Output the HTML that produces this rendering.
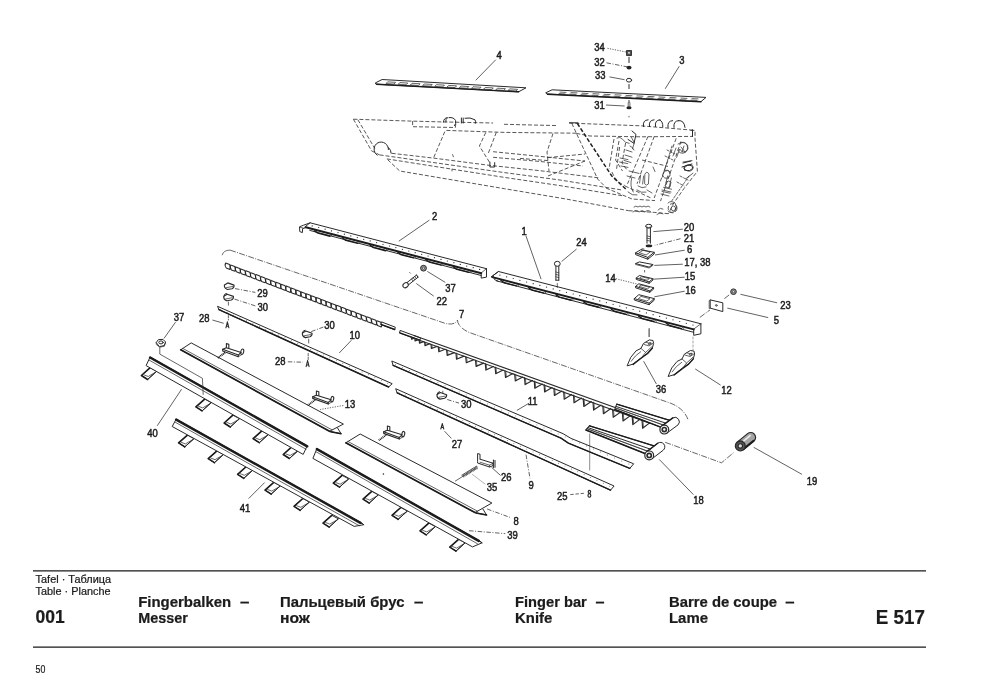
<!DOCTYPE html>
<html><head><meta charset="utf-8"><title>Tafel 001 - Fingerbalken / Messer - E 517</title>
<style>
html,body{margin:0;padding:0;background:#fff;}
body{width:994px;height:700px;overflow:hidden;font-family:"Liberation Sans",sans-serif;}
svg{display:block;position:absolute;left:0;top:0;}
svg text{font-family:"Liberation Sans",sans-serif;fill:#1a1a1a;}
.ft{position:absolute;white-space:nowrap;color:#111;line-height:1;font-family:"Liberation Sans",sans-serif;}
.b{font-weight:bold;}
.l{fill:none;stroke:#2a2a2a;stroke-width:1;stroke-linecap:round;stroke-linejoin:round;}
.t{fill:none;stroke:#333;stroke-width:0.75;stroke-linecap:round;stroke-linejoin:round;}
.h{fill:none;stroke:#1c1c1c;stroke-width:1.4;stroke-linecap:round;stroke-linejoin:round;}
.d{fill:none;stroke:#3a3a3a;stroke-width:0.85;stroke-dasharray:4 2;stroke-linecap:butt;}
.ld{fill:none;stroke:#333;stroke-width:0.7;}
.cd{fill:none;stroke:#333;stroke-width:0.75;stroke-dasharray:6 1.3 1 1.3;}
.f{fill:#222;stroke:none;}
.w{fill:#fff;stroke:#2a2a2a;stroke-width:1;stroke-linejoin:round;}
.n{font-size:9.5px;}
</style></head><body>
<svg width="994" height="700" viewBox="0 0 994 700">
<g id="top-section">
<g id="part-4">
<path class="l" d="M375.6 82.8 L382.1 79.5 L526.0 87.8 L518.6 91.8 L376.5 84.2Z"/>
<path class="h" d="M376.5 84.2 L518.6 91.8"/>
<path class="t" d="M388.0 81.9 l7.6 0.45 l-1.6 1.7 l-7.6 -0.45 z"/>
<path class="t" d="M400.2 82.6 l7.6 0.45 l-1.6 1.7 l-7.6 -0.45 z"/>
<path class="t" d="M412.4 83.3 l7.6 0.45 l-1.6 1.7 l-7.6 -0.45 z"/>
<path class="t" d="M424.6 84.0 l7.6 0.45 l-1.6 1.7 l-7.6 -0.45 z"/>
<path class="t" d="M436.8 84.7 l7.6 0.45 l-1.6 1.7 l-7.6 -0.45 z"/>
<path class="t" d="M449.0 85.4 l7.6 0.45 l-1.6 1.7 l-7.6 -0.45 z"/>
<path class="t" d="M461.2 86.1 l7.6 0.45 l-1.6 1.7 l-7.6 -0.45 z"/>
<path class="t" d="M473.4 86.8 l7.6 0.45 l-1.6 1.7 l-7.6 -0.45 z"/>
<path class="t" d="M485.6 87.5 l7.6 0.45 l-1.6 1.7 l-7.6 -0.45 z"/>
<path class="t" d="M497.8 88.2 l7.6 0.45 l-1.6 1.7 l-7.6 -0.45 z"/>
<path class="t" d="M510.0 88.9 l7.6 0.45 l-1.6 1.7 l-7.6 -0.45 z"/>
</g>
<g id="part-3">
<path class="l" d="M546.1 92.6 L552.1 89.8 L706.0 97.4 L701.0 101.6 L547.5 94.0Z"/>
<path class="h" d="M547.5 94.2 L701.0 101.8"/>
<path class="t" d="M560.0 92.1 l6 0.3"/>
<path class="t" d="M559.0 93.6 l6 0.3"/>
<path class="t" d="M571.0 92.6 l6 0.3"/>
<path class="t" d="M570.0 94.1 l6 0.3"/>
<path class="t" d="M582.0 93.2 l6 0.3"/>
<path class="t" d="M581.0 94.7 l6 0.3"/>
<path class="t" d="M593.0 93.7 l6 0.3"/>
<path class="t" d="M592.0 95.2 l6 0.3"/>
<path class="t" d="M604.0 94.3 l6 0.3"/>
<path class="t" d="M603.0 95.8 l6 0.3"/>
<path class="t" d="M615.0 94.8 l6 0.3"/>
<path class="t" d="M614.0 96.3 l6 0.3"/>
<path class="t" d="M626.0 95.4 l6 0.3"/>
<path class="t" d="M625.0 96.9 l6 0.3"/>
<path class="t" d="M637.0 95.9 l6 0.3"/>
<path class="t" d="M636.0 97.4 l6 0.3"/>
<path class="t" d="M648.0 96.4 l6 0.3"/>
<path class="t" d="M647.0 97.9 l6 0.3"/>
<path class="t" d="M659.0 97.0 l6 0.3"/>
<path class="t" d="M658.0 98.5 l6 0.3"/>
<path class="t" d="M670.0 97.5 l6 0.3"/>
<path class="t" d="M669.0 99.0 l6 0.3"/>
<path class="t" d="M681.0 98.1 l6 0.3"/>
<path class="t" d="M680.0 99.6 l6 0.3"/>
<path class="t" d="M692.0 98.6 l6 0.3"/>
<path class="t" d="M691.0 100.1 l6 0.3"/>
</g>
<g id="fasteners-31-34">
<rect x="626.6" y="50.6" width="4.8" height="4.8" fill="#555" stroke="#222" stroke-width="0.9"/>
<rect x="628" y="52" width="2" height="1.6" fill="#ccc"/>
<line class="l" x1="629.0" y1="57.2" x2="629.0" y2="62.6"/>
<ellipse class="f" cx="629.0" cy="67.6" rx="2.5" ry="1.9"/>
<ellipse class="l" cx="629.0" cy="80.2" rx="2.6" ry="1.9"/>
<line class="l" x1="629.0" y1="84.5" x2="629.0" y2="88.6"/>
<line class="l" x1="629.0" y1="100.5" x2="629.0" y2="102.5"/>
<path class="t" d="M628.2 102.8 L628.2 106.6 M629.9 102.8 L629.9 106.6"/>
<ellipse class="f" cx="629.0" cy="107.8" rx="2.6" ry="1.5"/>
<line class="t" x1="629.0" y1="116.2" x2="629.0" y2="117.0"/>
</g>
<g id="machine-phantom">
<path class="d" d="M353.4 119.2 L411.0 121.1 L441.6 121.9 L493.1 123.0"/>
<path class="d" d="M353.4 119.2 L371.6 150.9 L379.6 154.9"/>
<path class="d" d="M357.9 119.8 L374.8 148.5"/>
<path class="l" d="M377.2 155.2 A7.2 7.2 0 1 1 388.4 149.6 M388.6 147.6 q2.6 2.4 2.6 5.6"/>
<path class="d" d="M391.7 153.3 L433.5 158.1 L489.9 165.4 L539.2 170.6 L600.0 178.0"/>
<path class="d" d="M379.6 154.9 L504.4 172.6 L560.0 180.0 L622.0 190.0"/>
<path class="d" d="M386.9 158.9 L504.4 177.4 L560.0 185.6 L624.0 196.0"/>
<path class="d" d="M387.7 159.7 L399.7 171.0 L504.4 188.7 L566.0 199.0 L628.7 210.7"/>
<path class="d" d="M412.6 121.1 L412.6 126.7 L455.3 127.5 L456.1 121.9"/>
<path class="l" d="M443.4 122.2 q0.4 -4.4 4.2 -4.6 q-2.4 1.6 -1.8 4.4 M449 117.6 q4.8 -0.6 6.6 3 q0.6 3.2 -1 5"/>
<path class="l" d="M461.4 118 l0 5 M463.2 118 l0 5 M465 118.2 q5.2 -1.2 10 1.6 q1.2 2 0.4 3.6"/>
<path class="d" d="M446.4 130.4 L504.4 132.4 L576.3 133.2"/>
<path class="d" d="M444.8 131.6 L433.5 158.1"/>
<path class="d" d="M485.8 132.4 L479.4 146.0 L489.9 162.9"/>
<path class="d" d="M496.3 132.4 L488.3 153.3"/>
<path class="d" d="M493.1 151.7 L539.2 156.3 L585.0 161.0"/>
<path class="d" d="M493.1 157.3 L539.2 161.4 L583.0 166.0"/>
<path class="l" d="M489.9 162.1 L489.9 167.0 L494.7 167.0 L494.7 162.6"/>
<path class="t" d="M452.6 154.6 l0.8 2.2 M452 169.2 l0 1.8"/>
<path class="d" d="M504.0 124.3 L557.2 125.6"/>
<path class="d" d="M569.3 123.1 L640.7 125.8 L693.0 130.2"/>
<path class="d" d="M576.3 133.4 L590.0 136.0 L640.0 136.8 L693.0 136.4"/>
</g>
<g id="machine-phantom-right">
<path class="d" d="M571.8 123.4 L597.7 179.1 L605.5 187.0"/>
<path class="d" d="M577.3 123.4 L611.8 176.0 L626.0 189.3" style="stroke-width:1.5;stroke:#222"/>
<path class="l" d="M569.4 122.8 L578.0 122.8"/>
<path class="d" d="M553.0 133.5 L547.0 152.0 L549.0 171.0"/>
<path class="d" d="M548.0 157.6 L585.1 154.0"/>
<path class="d" d="M548.0 176.0 L586.7 160.3"/>
<path class="d" d="M520.0 158.4 L548.0 160.6"/>
<path class="d" d="M690.4 130.4 L695.0 130.4 L695.0 138.3 L697.4 171.3 L684.0 188.5 L673.0 204.2 L668.4 213.7"/>
<path class="l" d="M692.5 129.8 L692.5 136.4"/>
<path class="d" d="M628.7 210.7 L654.2 212.4 L668.4 213.7"/>
<path class="l" d="M643.5 126.6 q-1.2 -6.6 4.6 -6.8"/>
<path class="l" d="M649.5 126.6 q-1.2 -6.6 4.6 -6.8"/>
<path class="l" d="M655.5 126.6 q-1.2 -6.6 4.6 -6.8"/>
<path class="l" d="M659.6 120 q3.4 1 3.2 6.8"/>
<path class="l" d="M668.0 127.4 q-1 -6.4 4.6 -6.8"/>
<path class="l" d="M674.0 127.4 q-1 -6.4 4.6 -6.8"/>
<path class="l" d="M678.6 120.6 q5.6 -0.6 6.4 6.8"/>
<path class="d" d="M648.0 136.4 L627.5 183.8"/>
<path class="d" d="M654.2 136.4 L637.0 183.8"/>
<path class="d" d="M676.2 138.3 L654.2 198.0"/>
<path class="d" d="M681.0 141.4 L660.5 201.1"/>
<path class="d" d="M642.0 160.0 L668.0 166.4"/>
<path class="d" d="M606.0 188.0 L632.0 199.0 L655.0 200.6"/>
<path class="d" d="M625.0 186.0 L651.0 198.0"/>
<path class="d" d="M619.0 141.0 L615.6 160.0 L622.5 171.0"/>
<path class="d" d="M625.6 143.0 L622.0 163.0 L627.0 170.0"/>
<path class="l" d="M632.0 131.0 L636.0 134.4 L634.0 143.4 L628.0 139.4"/>
<path class="t" d="M617 138 q3 -2 5.6 1.4 q2.4 3.6 6.6 4 M620 158 l8 1.6 M619.6 162 l8 1.6 M621 166 l7 1.4"/>
<path class="t" d="M629 171 l10 2.4 M627 176 l8 2 M631.6 178.4 q-2 8 1.6 13.6 M637 190 q4 3.4 9 2.2 M645 174 q1.6 -3.6 4 0 l-0.6 10 q-2 2.4 -3.6 0 z"/>
<path class="t" d="M653 167 l2 4.6 M664 171 q5 -2.6 5.6 2 M667.6 176 l-2.4 10 M671.4 178 l-2.4 10 M663.6 187.4 l8 1.8 M662 191.4 l8 1.8"/>
<path class="t" d="M680.6 143 q4.6 -1.6 7 2.4 q1.6 4 -1.6 6.4 q-4.4 1 -6 -2.4 M676 148 l-3 8 M679.6 149.4 l-3 8"/>
<path class="t" d="M684 168.4 q3 -4.6 8.4 -3 q2 2 0 4.4 q-4 3.6 -8.4 -1.4 M683 162 l9 -1.4 M686 178.6 l7 -5.4"/>
<path class="d" d="M614 139 l-5 30 M619.6 147 l-3 22 M612 172 q4 10 13 13.6"/>
<path class="t" d="M631.4 137.4 l3 5.4 l-2 6 M626 150 l6 2 M625 155 l7 2.2 M624 160.4 l7 2.2 M630 146 q3 1 4 4"/>
<path class="t" d="M640.6 175 l-1 8 M643.6 176 l-1 8 M638 186 q4 3 8 1 M628 192 q4 4 9 3 M647 190 l5 3"/>
<path class="t" d="M667 150 l8 4 M665 156 l8 4 M672 146 l-10 32" stroke-dasharray="2 1.4"/>
<path class="t" d="M678 144 q6 -4 9 1 q2 5 -3 8 q-5 1 -6 -3 M681 147 l4 5 M684 146 l-2 6"/>
<path class="t" d="M664 172 q4 -3 6 0 q1 4 -2 6 q-4 1 -5 -2 M666 182 q3 -2 5 0 l-1 5 q-3 2 -5 -1 M662 190 l9 2 M661 194 l8 2"/>
<path class="l" d="M683 163 l8 -2 M682 167 l10 -3 M684.6 170 q-2 -4 3 -5 q5 0 5 3 q-2 4 -8 2"/>
<path class="t" d="M680 176 l8 4 M677 182 l7 4 M689 176 l-18 26" stroke-dasharray="2.4 1.6"/>
<path class="t" d="M634 207 q2 -2 4 0 q2 -2 4 0 q2 -2 4 0 q2 -2 4 0 M658 210 q2 -3 5 -1 M668 203 q3 -3 7 0 q3 4 0 8 q-4 3 -7 0"/>
<ellipse class="d" cx="672.6" cy="208.2" rx="4.4" ry="4.6"/>
<ellipse class="t" cx="673.4" cy="208.4" rx="2.2" ry="2.4"/>
<path class="t" d="M633 212 q3 -3 6 0 q3 -3 6 0 q3 -3 6 0 M657 214.4 q3 -3 6 -0.6"/>
</g>
</g>
<g id="finger-bars">
<g id="part-2">
<path class="l" d="M304.8 227.0 L310.1 222.8 L486.5 268.7"/>
<path class="l" d="M486.5 268.7 L486.5 277.1 L481.2 278.1 L481.2 272.9"/>
<path class="t" d="M486.5 268.7 L481.2 272.9"/>
<path class="h" d="M305.8 227.3 L481.2 273.2" style="stroke-width:2"/>
<path class="l" d="M309.8 230.4 L481.2 275.5"/>
<circle cx="312.2" cy="225.9" r="0.62" class="f"/>
<circle cx="318.7" cy="227.5" r="0.62" class="f"/>
<circle cx="325.1" cy="229.2" r="0.62" class="f"/>
<circle cx="331.5" cy="230.9" r="0.62" class="f"/>
<circle cx="338.0" cy="232.6" r="0.62" class="f"/>
<circle cx="344.4" cy="234.2" r="0.62" class="f"/>
<circle cx="350.8" cy="235.9" r="0.62" class="f"/>
<circle cx="357.3" cy="237.6" r="0.62" class="f"/>
<circle cx="363.7" cy="239.3" r="0.62" class="f"/>
<circle cx="370.2" cy="240.9" r="0.62" class="f"/>
<circle cx="376.6" cy="242.6" r="0.62" class="f"/>
<circle cx="383.0" cy="244.3" r="0.62" class="f"/>
<circle cx="389.5" cy="246.0" r="0.62" class="f"/>
<circle cx="395.9" cy="247.6" r="0.62" class="f"/>
<circle cx="402.4" cy="249.3" r="0.62" class="f"/>
<circle cx="408.8" cy="251.0" r="0.62" class="f"/>
<circle cx="415.2" cy="252.7" r="0.62" class="f"/>
<circle cx="421.7" cy="254.3" r="0.62" class="f"/>
<circle cx="428.1" cy="256.0" r="0.62" class="f"/>
<circle cx="434.5" cy="257.7" r="0.62" class="f"/>
<circle cx="441.0" cy="259.4" r="0.62" class="f"/>
<circle cx="447.4" cy="261.0" r="0.62" class="f"/>
<circle cx="453.9" cy="262.7" r="0.62" class="f"/>
<circle cx="460.3" cy="264.4" r="0.62" class="f"/>
<circle cx="466.7" cy="266.1" r="0.62" class="f"/>
<circle cx="473.2" cy="267.7" r="0.62" class="f"/>
<circle cx="479.6" cy="269.4" r="0.62" class="f"/>
<path class="h" d="M314.6 230.8 l3.4 2.3 l12 3.1"/>
<path class="t" d="M330.6 234.6 l1.6 1.6"/>
<path class="h" d="M342.4 238.0 l3.4 2.3 l12 3.1"/>
<path class="t" d="M358.4 241.8 l1.6 1.6"/>
<path class="h" d="M370.2 245.3 l3.4 2.3 l12 3.1"/>
<path class="t" d="M386.2 249.1 l1.6 1.6"/>
<path class="h" d="M398.0 252.5 l3.4 2.3 l12 3.1"/>
<path class="t" d="M414.0 256.3 l1.6 1.6"/>
<path class="h" d="M425.8 259.7 l3.4 2.3 l12 3.1"/>
<path class="t" d="M441.8 263.5 l1.6 1.6"/>
<path class="h" d="M453.5 267.0 l3.4 2.3 l12 3.1"/>
<path class="t" d="M469.5 270.8 l1.6 1.6"/>
<path class="l" d="M310.1 222.8 L303.6 225.2 L299.5 226.8 L299.8 231.6 L302.4 232.6 L302.6 228.6 L305 227.9"/>
<path class="t" d="M300.4 227.4 l2.6 0.6"/>
</g>
<g id="bolt-22-nut-37">
<ellipse class="w" cx="405.6" cy="285.2" rx="2.9" ry="2.3" transform="rotate(-38 405.6 285.2)"/>
<path class="l" d="M407.2 282.4 L416.6 275 M408.8 284.6 L418 277.2 M416.6 275 L418 277.2"/>
<path class="t" d="M411.6 279 l1.4 2 M413.2 277.7 l1.4 2 M414.8 276.4 l1.4 2"/>
<circle cx="423.5" cy="268.2" r="2.9" class="w" style="fill:#999"/>
<circle cx="423.5" cy="268.2" r="1.1" fill="#eee" stroke="#222" stroke-width="0.6"/>
<path class="t" d="M409.6 272.4 l0.8 0.8"/>
</g>
<g id="part-1">
<path class="l" d="M491.3 276.8 L498.5 271.5 L700.9 323.8"/>
<path class="l" d="M700.9 323.8 L700.9 333.8 L693.7 335.3 L693.7 329.1"/>
<path class="t" d="M700.9 323.8 L693.7 329.1"/>
<path class="h" d="M492.3 277.1 L693.7 329.4" style="stroke-width:2"/>
<path class="l" d="M496.3 280.8 L693.7 332.3"/>
<circle cx="499.9" cy="275.1" r="0.62" class="f"/>
<circle cx="506.6" cy="276.8" r="0.62" class="f"/>
<circle cx="513.2" cy="278.5" r="0.62" class="f"/>
<circle cx="519.9" cy="280.3" r="0.62" class="f"/>
<circle cx="526.6" cy="282.0" r="0.62" class="f"/>
<circle cx="533.2" cy="283.7" r="0.62" class="f"/>
<circle cx="539.9" cy="285.4" r="0.62" class="f"/>
<circle cx="546.5" cy="287.1" r="0.62" class="f"/>
<circle cx="553.2" cy="288.9" r="0.62" class="f"/>
<circle cx="559.8" cy="290.6" r="0.62" class="f"/>
<circle cx="566.5" cy="292.3" r="0.62" class="f"/>
<circle cx="573.2" cy="294.0" r="0.62" class="f"/>
<circle cx="579.8" cy="295.7" r="0.62" class="f"/>
<circle cx="586.5" cy="297.5" r="0.62" class="f"/>
<circle cx="593.1" cy="299.2" r="0.62" class="f"/>
<circle cx="599.8" cy="300.9" r="0.62" class="f"/>
<circle cx="606.4" cy="302.6" r="0.62" class="f"/>
<circle cx="613.1" cy="304.3" r="0.62" class="f"/>
<circle cx="619.8" cy="306.1" r="0.62" class="f"/>
<circle cx="626.4" cy="307.8" r="0.62" class="f"/>
<circle cx="633.1" cy="309.5" r="0.62" class="f"/>
<circle cx="639.7" cy="311.2" r="0.62" class="f"/>
<circle cx="646.4" cy="312.9" r="0.62" class="f"/>
<circle cx="653.1" cy="314.7" r="0.62" class="f"/>
<circle cx="659.7" cy="316.4" r="0.62" class="f"/>
<circle cx="666.4" cy="318.1" r="0.62" class="f"/>
<circle cx="673.0" cy="319.8" r="0.62" class="f"/>
<circle cx="679.7" cy="321.5" r="0.62" class="f"/>
<circle cx="686.3" cy="323.3" r="0.62" class="f"/>
<circle cx="693.0" cy="325.0" r="0.62" class="f"/>
<path class="h" d="M501.0 280.5 l3.4 2.3 l12 3.1"/>
<path class="t" d="M517.0 284.3 l1.6 1.6"/>
<path class="h" d="M528.5 287.7 l3.4 2.3 l12 3.1"/>
<path class="t" d="M544.5 291.5 l1.6 1.6"/>
<path class="h" d="M556.0 294.8 l3.4 2.3 l12 3.1"/>
<path class="t" d="M572.0 298.6 l1.6 1.6"/>
<path class="h" d="M583.6 301.9 l3.4 2.3 l12 3.1"/>
<path class="t" d="M599.6 305.7 l1.6 1.6"/>
<path class="h" d="M611.1 309.0 l3.4 2.3 l12 3.1"/>
<path class="t" d="M627.1 312.8 l1.6 1.6"/>
<path class="h" d="M638.6 316.1 l3.4 2.3 l12 3.1"/>
<path class="t" d="M654.6 319.9 l1.6 1.6"/>
<path class="h" d="M666.2 323.2 l3.4 2.3 l12 3.1"/>
<path class="t" d="M682.2 327.0 l1.6 1.6"/>
<path class="l" d="M498.5 271.5 L493 275.6 L494.6 279.6 L498.4 281.4"/>
</g>
<g id="bolt-24">
<ellipse class="w" cx="557.3" cy="263.8" rx="2.9" ry="2.5"/>
<path class="l" d="M555.9 266.2 L555.9 280.2 M558.8 266.2 L558.8 280.2 M555.9 280.2 L558.8 280.2"/>
<path class="t" d="M555.9 272 l2.9 0.8 M555.9 274.4 l2.9 0.8 M555.9 276.8 l2.9 0.8"/>
<line class="t" x1="557.3" y1="283.5" x2="557.3" y2="287.5"/>
</g>
<g id="clamp-stack">
<ellipse class="w" cx="648.7" cy="226.2" rx="3.1" ry="1.9"/>
<path class="t" d="M646 226.8 q2.7 2 5.4 0"/>
<path class="l" d="M647 228.2 L647 243.2 M650.4 228.2 L650.4 243.2"/>
<path class="t" d="M647 236 l3.4 0.7 M647 238.2 l3.4 0.7 M647 240.4 l3.4 0.7"/>
<ellipse class="f" cx="649.0" cy="245.9" rx="3.3" ry="1.4"/>
<path class="w" d="M635.6 252.9 L640.7 249.7 L654.2 252.3 L647.8 257.4 Z"/>
<path class="l" d="M635.6 252.9 L635.6 254.6 L647.8 259.2 L654.2 254 L654.2 252.3 M647.8 257.4 L647.8 259.2"/>
<path class="t" d="M639.6 252.4 L643 250.4 L650.4 251.9 L646.4 254.8 Z"/>
<path class="t" d="M641.5 250 l0.4 -1.3 l2.2 0.4 M637.6 254 l1.6 -1"/>
<path class="w" d="M635.6 263.6 L639.4 261.9 L652.9 264.5 L649.1 267.1 Z"/>
<path class="t" d="M635.6 263.6 L635.6 264.5 L649.1 268 L652.9 265.4 L652.9 264.5"/>
<line class="t" x1="644.6" y1="270.4" x2="644.6" y2="272.0"/>
<path class="w" d="M636.2 278 L639.4 275.5 L652.9 278.7 L649.1 281.9 Z"/>
<path class="l" d="M636.2 278 L636.2 279.4 L649.1 283.3 L652.9 280.1 L652.9 278.7 M649.1 281.9 L649.1 283.3"/>
<path class="t" d="M639.8 277.9 L641.6 276.7 L649.4 278.6 L647.4 280 Z"/>
<path class="w" d="M635.6 286.4 L638.8 283.8 L653.6 287.7 L649.7 290.9 Z"/>
<path class="l" d="M635.6 286.4 L635.6 287.8 L649.7 292.3 L653.6 289.1 L653.6 287.7 M649.7 290.9 L649.7 292.3"/>
<path class="t" d="M639.4 286.2 L641 285 L649.6 287.3 L647.8 288.6 Z"/>
<path class="w" d="M634.3 298.6 L638.8 294.7 L654.2 298.6 L649.1 303.1 Z"/>
<path class="l" d="M634.3 298.6 L634.3 300 L649.1 304.7 L654.2 300.2 L654.2 298.6 M649.1 303.1 L649.1 304.7"/>
<path class="t" d="M638.6 298.4 L641 296.4 L650 298.7 L647.2 300.8 Z"/>
</g>
<g id="plate-5-nut-23">
<path class="w" d="M710.2 299.9 L722.8 302.8 L722.8 311.6 L710.2 308.1 Z"/>
<path class="t" d="M710.2 299.9 L709.2 300.6 L709.2 308.6 L710.2 308.1"/>
<circle cx="716.3" cy="305.4" r="0.9" class="t"/>
<circle cx="733.5" cy="291.7" r="2.8" class="w" style="fill:#999"/>
<circle cx="733.5" cy="291.7" r="1.1" fill="#eee" stroke="#222" stroke-width="0.6"/>
<line class="cd" x1="724.4" y1="298.6" x2="730.4" y2="294.0"/>
<line class="cd" x1="699.8" y1="317.4" x2="710.0" y2="309.9"/>
</g>
<g id="guards-36-12">
<line class="l" x1="649.1" y1="328.7" x2="649.1" y2="336.6"/>
<line class="t" x1="693.0" y1="337.0" x2="693.0" y2="350.0" stroke-dasharray="2 2" opacity="0.6"/>
<path class="w" d="M627.1 365.9 L630.7 357.4 L636.1 350.8 L641.0 348.4 L643.4 343.5 L649.4 339.9 L653.0 340.5 L653.6 343.5 L653.6 343.5 L652.4 347.8 L647.6 353.2 L641.0 358.0 L633.1 364.1Z"/>
<path class="h" d="M633.1 364.4 L641.0 358.3 L647.6 353.5 L652.4 348.1"/>
<path class="t" d="M631.1 361.3 q4 -6 9.6 -9.6 M641.0 348.4 l4.6 4 l-4.4 5.6 M645.6 352.4 l6.2 -5.6"/>
<path class="t" d="M644.1 344.5 l5 1.4 l3.6 -2.4 M646.1 342.3 l4.2 1.2"/>
<ellipse class="t" cx="649.7" cy="343.7" rx="1.5" ry="0.9" transform="rotate(-25 649.7 343.7)"/>
<path class="w" d="M668.1 376.5 L671.7 368.0 L677.1 361.4 L682.0 359.0 L684.4 354.1 L690.4 350.5 L694.0 351.1 L694.6 354.1 L694.6 354.1 L693.4 358.4 L688.6 363.8 L682.0 368.6 L674.1 374.7Z"/>
<path class="h" d="M674.1 375.0 L682.0 368.9 L688.6 364.1 L693.4 358.7"/>
<path class="t" d="M672.1 371.9 q4 -6 9.6 -9.6 M682.0 359.0 l4.6 4 l-4.4 5.6 M686.6 363.0 l6.2 -5.6"/>
<path class="t" d="M685.1 355.1 l5 1.4 l3.6 -2.4 M687.1 352.9 l4.2 1.2"/>
<ellipse class="t" cx="690.7" cy="354.3" rx="1.5" ry="0.9" transform="rotate(-25 690.7 354.3)"/>
</g>
</g>
<g id="lower-section">
<g id="brace-7">
<path class="ld" d="M222.1 255.2 Q223.4 250.2 230.1 250.1"/>
<path class="cd" d="M230.1 250.1 L444.4 323.1 Q454.5 326 457.5 320.1"/>
<path class="cd" d="M457.5 320.1 Q457.5 326.6 468.5 332.2 L670.8 403.3 Q684 408.4 688.2 420"/>
</g>
<g id="knife-7-left">
<path class="l" d="M225.7 263.1 L229.6 264.6 Q231.1 267.8 229.9 269.4 L226.3 268.0 Q224.3 265.3 225.7 263.1" style="stroke-width:1.05"/>
<path class="l" d="M230.7 265.0 L234.7 266.5 Q236.2 269.7 235.0 271.3 L231.4 269.9 Q229.3 267.2 230.7 265.0" style="stroke-width:1.05"/>
<path class="l" d="M235.8 266.9 L239.7 268.4 Q241.2 271.6 240.0 273.2 L236.4 271.8 Q234.4 269.1 235.8 266.9" style="stroke-width:1.05"/>
<path class="l" d="M240.8 268.9 L244.8 270.4 Q246.3 273.5 245.1 275.1 L241.4 273.7 Q239.4 271.1 240.8 268.9" style="stroke-width:1.05"/>
<path class="l" d="M245.9 270.8 L249.8 272.3 Q251.3 275.4 250.1 277.0 L246.5 275.7 Q244.5 273.0 245.9 270.8" style="stroke-width:1.05"/>
<path class="l" d="M250.9 272.7 L254.8 274.2 Q256.4 277.4 255.2 279.0 L251.5 277.6 Q249.5 274.9 250.9 272.7" style="stroke-width:1.05"/>
<path class="l" d="M256.0 274.6 L259.9 276.1 Q261.4 279.3 260.2 280.9 L256.6 279.5 Q254.6 276.8 256.0 274.6" style="stroke-width:1.05"/>
<path class="l" d="M261.0 276.5 L264.9 278.0 Q266.4 281.2 265.2 282.8 L261.6 281.4 Q259.6 278.7 261.0 276.5" style="stroke-width:1.05"/>
<path class="l" d="M266.0 278.5 L270.0 280.0 Q271.5 283.1 270.3 284.7 L266.6 283.3 Q264.6 280.7 266.0 278.5" style="stroke-width:1.05"/>
<path class="l" d="M271.1 280.4 L275.0 281.9 Q276.5 285.0 275.3 286.6 L271.7 285.2 Q269.7 282.6 271.1 280.4" style="stroke-width:1.05"/>
<path class="l" d="M276.1 282.3 L280.1 283.8 Q281.6 287.0 280.4 288.6 L276.7 287.2 Q274.7 284.5 276.1 282.3" style="stroke-width:1.05"/>
<path class="l" d="M281.2 284.2 L285.1 285.7 Q286.6 288.9 285.4 290.5 L281.8 289.1 Q279.8 286.4 281.2 284.2" style="stroke-width:1.05"/>
<path class="l" d="M286.2 286.1 L290.1 287.6 Q291.6 290.8 290.4 292.4 L286.8 291.0 Q284.8 288.3 286.2 286.1" style="stroke-width:1.05"/>
<path class="l" d="M291.2 288.1 L295.2 289.5 Q296.7 292.7 295.5 294.3 L291.9 292.9 Q289.8 290.3 291.2 288.1" style="stroke-width:1.05"/>
<path class="l" d="M296.3 290.0 L300.2 291.5 Q301.7 294.6 300.5 296.2 L296.9 294.8 Q294.9 292.2 296.3 290.0" style="stroke-width:1.05"/>
<path class="l" d="M301.3 291.9 L305.3 293.4 Q306.8 296.5 305.6 298.1 L301.9 296.8 Q299.9 294.1 301.3 291.9" style="stroke-width:1.05"/>
<path class="l" d="M306.4 293.8 L310.3 295.3 Q311.8 298.5 310.6 300.1 L307.0 298.7 Q305.0 296.0 306.4 293.8" style="stroke-width:1.05"/>
<path class="l" d="M311.4 295.7 L315.3 297.2 Q316.9 300.4 315.7 302.0 L312.0 300.6 Q310.0 297.9 311.4 295.7" style="stroke-width:1.05"/>
<path class="l" d="M316.5 297.6 L320.4 299.1 Q321.9 302.3 320.7 303.9 L317.1 302.5 Q315.1 299.8 316.5 297.6" style="stroke-width:1.05"/>
<path class="l" d="M321.5 299.6 L325.4 301.1 Q326.9 304.2 325.7 305.8 L322.1 304.4 Q320.1 301.8 321.5 299.6" style="stroke-width:1.05"/>
<path class="l" d="M326.5 301.5 L330.5 303.0 Q332.0 306.1 330.8 307.7 L327.2 306.4 Q325.1 303.7 326.5 301.5" style="stroke-width:1.05"/>
<path class="l" d="M331.6 303.4 L335.5 304.9 Q337.0 308.1 335.8 309.7 L332.2 308.3 Q330.2 305.6 331.6 303.4" style="stroke-width:1.05"/>
<path class="l" d="M336.6 305.3 L340.6 306.8 Q342.1 310.0 340.9 311.6 L337.2 310.2 Q335.2 307.5 336.6 305.3" style="stroke-width:1.05"/>
<path class="l" d="M341.7 307.2 L345.6 308.7 Q347.1 311.9 345.9 313.5 L342.3 312.1 Q340.3 309.4 341.7 307.2" style="stroke-width:1.05"/>
<path class="l" d="M346.7 309.2 L350.6 310.7 Q352.1 313.8 350.9 315.4 L347.3 314.0 Q345.3 311.4 346.7 309.2" style="stroke-width:1.05"/>
<path class="l" d="M351.7 311.1 L355.7 312.6 Q357.2 315.7 356.0 317.3 L352.4 316.0 Q350.3 313.3 351.7 311.1" style="stroke-width:1.05"/>
<path class="l" d="M356.8 313.0 L360.7 314.5 Q362.2 317.7 361.0 319.3 L357.4 317.9 Q355.4 315.2 356.8 313.0" style="stroke-width:1.05"/>
<path class="l" d="M361.8 314.9 L365.8 316.4 Q367.3 319.6 366.1 321.2 L362.4 319.8 Q360.4 317.1 361.8 314.9" style="stroke-width:1.05"/>
<path class="l" d="M366.9 316.8 L370.8 318.3 Q372.3 321.5 371.1 323.1 L367.5 321.7 Q365.5 319.0 366.9 316.8" style="stroke-width:1.05"/>
<path class="l" d="M371.9 318.8 L375.8 320.3 Q377.4 323.4 376.2 325.0 L372.5 323.6 Q370.5 321.0 371.9 318.8" style="stroke-width:1.05"/>
<path class="l" d="M377.0 320.7 L380.9 322.2 Q382.4 325.3 381.2 326.9 L377.6 325.6 Q375.6 322.9 377.0 320.7" style="stroke-width:1.05"/>
<path class="w" d="M381.5 321.9 L395.3 327.2 L394.7 329.7 L380.9 324.6 Z"/>
<path class="h" d="M381.0 324.3 L394.7 329.5"/>
</g>
<g id="knife-7-right">
<path class="w" d="M400.1 330.4 L420.5 337.9 L419.8 340.3 L399.6 333 Z"/>
<path class="h" d="M399.8 332.8 L419.8 340.1"/>
<path class="l" d="M414.0 335.4 L652.7 421.0" style="stroke-width:1.1"/>
<path class="l" d="M416.0 338.9 L650.5 423.4" style="stroke-width:1.1"/>
<path class="l" d="M411.4 337.2 L411.6 339.1 L414.2 338.2" style="stroke-width:1.15"/>
<path class="t" d="M412.3 337.8 L412.5 338.5"/>
<path class="l" d="M414.8 338.5 L415.1 340.9 L418.4 339.8" style="stroke-width:1.15"/>
<path class="t" d="M415.7 339.1 L416.0 340.3"/>
<path class="l" d="M419.2 340.0 L419.5 343.1 L423.6 341.6" style="stroke-width:1.15"/>
<path class="t" d="M420.1 340.6 L420.4 342.5"/>
<path class="l" d="M424.6 342.0 L425.0 345.6 L429.8 343.8" style="stroke-width:1.15"/>
<path class="t" d="M425.5 342.6 L425.9 345.0"/>
<path class="l" d="M431.0 344.3 L431.4 348.5 L437.0 346.4" style="stroke-width:1.15"/>
<path class="t" d="M431.9 344.9 L432.3 347.9"/>
<path class="l" d="M438.3 346.9 L438.8 351.8 L445.2 349.3" style="stroke-width:1.15"/>
<path class="t" d="M439.2 347.5 L439.7 351.2"/>
<path class="l" d="M446.6 349.9 L447.2 355.4 L454.3 352.6" style="stroke-width:1.15"/>
<path class="t" d="M447.5 350.5 L448.1 354.8"/>
<path class="l" d="M456.0 353.2 L456.5 359.2 L464.0 356.1" style="stroke-width:1.15"/>
<path class="t" d="M456.9 353.8 L457.4 358.6"/>
<path class="l" d="M465.7 356.7 L466.3 362.8 L473.8 359.6" style="stroke-width:1.15"/>
<path class="t" d="M466.6 357.3 L467.2 362.2"/>
<path class="l" d="M475.5 360.2 L476.1 366.4 L483.6 363.1" style="stroke-width:1.15"/>
<path class="t" d="M476.4 360.8 L477.0 365.8"/>
<path class="l" d="M485.3 363.7 L485.9 370.1 L493.4 366.6" style="stroke-width:1.15"/>
<path class="t" d="M486.2 364.3 L486.8 369.5"/>
<path class="l" d="M495.1 367.2 L495.7 373.7 L503.1 370.1" style="stroke-width:1.15"/>
<path class="t" d="M496.0 367.8 L496.6 373.1"/>
<path class="l" d="M504.9 370.7 L505.5 377.4 L512.9 373.6" style="stroke-width:1.15"/>
<path class="t" d="M505.8 371.3 L506.4 376.8"/>
<path class="l" d="M514.7 374.2 L515.3 381.0 L522.7 377.1" style="stroke-width:1.15"/>
<path class="t" d="M515.6 374.8 L516.2 380.4"/>
<path class="l" d="M524.5 377.7 L525.1 384.6 L532.5 380.6" style="stroke-width:1.15"/>
<path class="t" d="M525.4 378.3 L526.0 384.0"/>
<path class="l" d="M534.3 381.2 L534.8 388.3 L542.3 384.1" style="stroke-width:1.15"/>
<path class="t" d="M535.2 381.8 L535.7 387.7"/>
<path class="l" d="M544.1 384.7 L544.6 391.9 L552.1 387.6" style="stroke-width:1.15"/>
<path class="t" d="M545.0 385.3 L545.5 391.3"/>
<path class="l" d="M553.9 388.2 L554.4 395.5 L561.9 391.1" style="stroke-width:1.15"/>
<path class="t" d="M554.8 388.8 L555.3 394.9"/>
<path class="l" d="M563.7 391.7 L564.2 399.2 L571.7 394.6" style="stroke-width:1.15"/>
<path class="t" d="M564.6 392.3 L565.1 398.6"/>
<path class="l" d="M573.5 395.2 L574.0 402.8 L581.5 398.1" style="stroke-width:1.15"/>
<path class="t" d="M574.4 395.8 L574.9 402.2"/>
<path class="l" d="M583.2 398.7 L583.8 406.4 L591.3 401.6" style="stroke-width:1.15"/>
<path class="t" d="M584.1 399.3 L584.7 405.8"/>
<path class="l" d="M593.0 402.2 L593.6 410.1 L601.1 405.1" style="stroke-width:1.15"/>
<path class="t" d="M593.9 402.8 L594.5 409.5"/>
<path class="l" d="M602.8 405.8 L603.4 413.7 L610.9 408.6" style="stroke-width:1.15"/>
<path class="t" d="M603.7 406.4 L604.3 413.1"/>
<path class="l" d="M612.6 409.3 L613.2 417.3 L620.6 412.1" style="stroke-width:1.15"/>
<path class="t" d="M613.5 409.9 L614.1 416.7"/>
<path class="l" d="M622.4 412.8 L623.0 421.0 L630.4 415.6" style="stroke-width:1.15"/>
<path class="t" d="M623.3 413.4 L623.9 420.4"/>
<path class="l" d="M632.2 416.3 L632.8 424.6 L640.2 419.1" style="stroke-width:1.15"/>
<path class="t" d="M633.1 416.9 L633.7 424.0"/>
<path class="l" d="M642.0 419.8 L642.6 428.3 L650.0 422.6" style="stroke-width:1.15"/>
<path class="t" d="M642.9 420.4 L643.5 427.7"/>
<g id="knife-head-7">
<path class="w" d="M616.7 404.1 L673.0 421.4 L661.9 427.6 L614.8 409.5Z"/>
<path class="l" d="M615.9 406.4 L668.3 424.0"/>
<path class="t" d="M615.4 407.9 L665.2 425.7Z"/>
<path class="h" d="M614.8 409.5 L661.9 427.6Z"/>
<path class="h" d="M616.7 404.1 L673.0 421.4Z"/>
<path class="w" d="M666.9 433.1 L678.0 424.9 A4.4 4.4 0 0 0 672.8 417.9 L661.7 426.1"/>
<path class="h" d="M672.8 417.9 L661.7 426.1"/>
<circle cx="664.3" cy="429.6" r="4.4" class="w" style="stroke-width:1.2"/>
<circle cx="664.3" cy="429.6" r="2.1" class="l" style="stroke-width:1.7"/>
</g>
</g>
<g id="strips-10-11-9">
<g id="part-10">
<path class="w" d="M217.5 306.3 L392.2 383.7 L388.6 387.0 L218.9 309.6Z"/>
<path class="h" d="M218.9 309.6 L388.6 387.0"/>
<circle cx="220.8" cy="309.4" r="0.45" class="f"/>
<circle cx="227.2" cy="312.2" r="0.45" class="f"/>
<circle cx="233.6" cy="315.1" r="0.45" class="f"/>
<circle cx="240.0" cy="317.9" r="0.45" class="f"/>
<circle cx="246.4" cy="320.8" r="0.45" class="f"/>
<circle cx="252.9" cy="323.6" r="0.45" class="f"/>
<circle cx="259.3" cy="326.5" r="0.45" class="f"/>
<circle cx="265.7" cy="329.3" r="0.45" class="f"/>
<circle cx="272.1" cy="332.2" r="0.45" class="f"/>
<circle cx="278.6" cy="335.0" r="0.45" class="f"/>
<circle cx="285.0" cy="337.8" r="0.45" class="f"/>
<circle cx="291.4" cy="340.7" r="0.45" class="f"/>
<circle cx="297.8" cy="343.5" r="0.45" class="f"/>
<circle cx="304.2" cy="346.4" r="0.45" class="f"/>
<circle cx="310.7" cy="349.2" r="0.45" class="f"/>
<circle cx="317.1" cy="352.1" r="0.45" class="f"/>
<circle cx="323.5" cy="354.9" r="0.45" class="f"/>
<circle cx="329.9" cy="357.8" r="0.45" class="f"/>
<circle cx="336.4" cy="360.6" r="0.45" class="f"/>
<circle cx="342.8" cy="363.5" r="0.45" class="f"/>
<circle cx="349.2" cy="366.3" r="0.45" class="f"/>
<circle cx="355.6" cy="369.2" r="0.45" class="f"/>
<circle cx="362.1" cy="372.0" r="0.45" class="f"/>
<circle cx="368.5" cy="374.8" r="0.45" class="f"/>
<circle cx="374.9" cy="377.7" r="0.45" class="f"/>
<circle cx="381.3" cy="380.5" r="0.45" class="f"/>
<circle cx="387.7" cy="383.4" r="0.45" class="f"/>
</g>
<g id="part-11">
<path class="w" d="M391.8 361 L563.1 433.7 L571 438.4 L633.7 463.8 L629.8 468.4 L568.4 443.2 L561 438.2 L393.1 365.4 Z"/>
<path class="h" d="M393.1 365.4 L561.0 438.2 L568.4 443.2 L629.8 468.4"/>
<circle cx="395.4" cy="364.8" r="0.45" class="f"/>
<circle cx="402.5" cy="367.8" r="0.45" class="f"/>
<circle cx="409.6" cy="370.8" r="0.45" class="f"/>
<circle cx="416.7" cy="373.8" r="0.45" class="f"/>
<circle cx="423.7" cy="376.8" r="0.45" class="f"/>
<circle cx="430.8" cy="379.8" r="0.45" class="f"/>
<circle cx="437.9" cy="382.8" r="0.45" class="f"/>
<circle cx="445.0" cy="385.8" r="0.45" class="f"/>
<circle cx="452.0" cy="388.9" r="0.45" class="f"/>
<circle cx="459.1" cy="391.9" r="0.45" class="f"/>
<circle cx="466.2" cy="394.9" r="0.45" class="f"/>
<circle cx="473.2" cy="397.9" r="0.45" class="f"/>
<circle cx="480.3" cy="400.9" r="0.45" class="f"/>
<circle cx="487.4" cy="403.9" r="0.45" class="f"/>
<circle cx="494.5" cy="406.9" r="0.45" class="f"/>
<circle cx="501.5" cy="409.9" r="0.45" class="f"/>
<circle cx="508.6" cy="412.9" r="0.45" class="f"/>
<circle cx="515.7" cy="415.9" r="0.45" class="f"/>
<circle cx="522.8" cy="418.9" r="0.45" class="f"/>
<circle cx="529.8" cy="421.9" r="0.45" class="f"/>
<circle cx="536.9" cy="424.9" r="0.45" class="f"/>
<circle cx="544.0" cy="427.9" r="0.45" class="f"/>
<circle cx="551.1" cy="430.9" r="0.45" class="f"/>
<circle cx="558.1" cy="433.9" r="0.45" class="f"/>
<circle cx="565.2" cy="436.9" r="0.45" class="f"/>
<circle cx="572.3" cy="439.9" r="0.45" class="f"/>
<circle cx="579.3" cy="443.0" r="0.45" class="f"/>
<circle cx="586.4" cy="446.0" r="0.45" class="f"/>
<circle cx="593.5" cy="449.0" r="0.45" class="f"/>
<circle cx="600.6" cy="452.0" r="0.45" class="f"/>
<circle cx="607.6" cy="455.0" r="0.45" class="f"/>
<circle cx="614.7" cy="458.0" r="0.45" class="f"/>
<circle cx="621.8" cy="461.0" r="0.45" class="f"/>
<circle cx="628.9" cy="464.0" r="0.45" class="f"/>
</g>
<g id="part-9">
<path class="w" d="M395.7 388.7 L614.1 486.0 L610.5 490.2 L397.1 392.9Z"/>
<path class="h" d="M397.1 392.9 L610.5 490.2"/>
<circle cx="398.9" cy="392.2" r="0.45" class="f"/>
<circle cx="405.3" cy="395.0" r="0.45" class="f"/>
<circle cx="411.7" cy="397.9" r="0.45" class="f"/>
<circle cx="418.1" cy="400.7" r="0.45" class="f"/>
<circle cx="424.5" cy="403.6" r="0.45" class="f"/>
<circle cx="430.9" cy="406.4" r="0.45" class="f"/>
<circle cx="437.2" cy="409.2" r="0.45" class="f"/>
<circle cx="443.6" cy="412.1" r="0.45" class="f"/>
<circle cx="450.0" cy="414.9" r="0.45" class="f"/>
<circle cx="456.4" cy="417.8" r="0.45" class="f"/>
<circle cx="462.8" cy="420.6" r="0.45" class="f"/>
<circle cx="469.2" cy="423.5" r="0.45" class="f"/>
<circle cx="475.6" cy="426.3" r="0.45" class="f"/>
<circle cx="481.9" cy="429.2" r="0.45" class="f"/>
<circle cx="488.3" cy="432.0" r="0.45" class="f"/>
<circle cx="494.7" cy="434.8" r="0.45" class="f"/>
<circle cx="501.1" cy="437.7" r="0.45" class="f"/>
<circle cx="507.5" cy="440.5" r="0.45" class="f"/>
<circle cx="513.9" cy="443.4" r="0.45" class="f"/>
<circle cx="520.3" cy="446.2" r="0.45" class="f"/>
<circle cx="526.7" cy="449.1" r="0.45" class="f"/>
<circle cx="533.0" cy="451.9" r="0.45" class="f"/>
<circle cx="539.4" cy="454.8" r="0.45" class="f"/>
<circle cx="545.8" cy="457.6" r="0.45" class="f"/>
<circle cx="552.2" cy="460.5" r="0.45" class="f"/>
<circle cx="558.6" cy="463.3" r="0.45" class="f"/>
<circle cx="565.0" cy="466.1" r="0.45" class="f"/>
<circle cx="571.4" cy="469.0" r="0.45" class="f"/>
<circle cx="577.7" cy="471.8" r="0.45" class="f"/>
<circle cx="584.1" cy="474.7" r="0.45" class="f"/>
<circle cx="590.5" cy="477.5" r="0.45" class="f"/>
<circle cx="596.9" cy="480.4" r="0.45" class="f"/>
<circle cx="603.3" cy="483.2" r="0.45" class="f"/>
<circle cx="609.7" cy="486.1" r="0.45" class="f"/>
</g>
</g>
<g id="rails-and-covers">
<g id="rail-41">
<path class="w" d="M194.0 438.6 L187.4 435.1 L178.6 442.9 L184.8 446.9Z"/>
<path class="h" d="M187.4 435.1 L178.6 442.9 L184.8 446.9" style="stroke-width:1.6"/>
<path class="l" d="M184.8 446.9 L194.0 438.6"/>
<path class="t" d="M181.2 442.3 L185.4 443.9 L192.4 439.8"/>
<path class="w" d="M223.6 454.4 L217.0 450.9 L208.2 458.7 L214.4 462.7Z"/>
<path class="h" d="M217.0 450.9 L208.2 458.7 L214.4 462.7" style="stroke-width:1.6"/>
<path class="l" d="M214.4 462.7 L223.6 454.4"/>
<path class="t" d="M210.8 458.1 L215.0 459.7 L222.0 455.6"/>
<path class="w" d="M253.0 470.0 L246.4 466.5 L237.6 474.3 L243.8 478.3Z"/>
<path class="h" d="M246.4 466.5 L237.6 474.3 L243.8 478.3" style="stroke-width:1.6"/>
<path class="l" d="M243.8 478.3 L253.0 470.0"/>
<path class="t" d="M240.2 473.7 L244.4 475.3 L251.4 471.2"/>
<path class="w" d="M280.4 485.8 L273.8 482.3 L265.0 490.1 L271.2 494.1Z"/>
<path class="h" d="M273.8 482.3 L265.0 490.1 L271.2 494.1" style="stroke-width:1.6"/>
<path class="l" d="M271.2 494.1 L280.4 485.8"/>
<path class="t" d="M267.6 489.5 L271.8 491.1 L278.8 487.0"/>
<path class="w" d="M309.4 502.0 L302.8 498.5 L294.0 506.3 L300.2 510.3Z"/>
<path class="h" d="M302.8 498.5 L294.0 506.3 L300.2 510.3" style="stroke-width:1.6"/>
<path class="l" d="M300.2 510.3 L309.4 502.0"/>
<path class="t" d="M296.6 505.7 L300.8 507.3 L307.8 503.2"/>
<path class="w" d="M338.4 518.8 L331.8 515.3 L323.0 523.1 L329.2 527.1Z"/>
<path class="h" d="M331.8 515.3 L323.0 523.1 L329.2 527.1" style="stroke-width:1.6"/>
<path class="l" d="M329.2 527.1 L338.4 518.8"/>
<path class="t" d="M325.6 522.5 L329.8 524.1 L336.8 520.0"/>
<path class="w" d="M176.2 419.1 L360.4 522.3 L363.8 524.7 L354.2 526.4 L172.2 426.5Z"/>
<path class="l" d="M355.4 519.7 L363.8 524.7"/>
<path class="h" d="M176.2 419.6 L360.4 522.8" style="stroke-width:2.5"/>
<path class="t" d="M175.4 422.3 L359.2 525.7"/>
</g>
<g id="rail-40">
<path class="w" d="M156.8 371.2 L150.2 367.7 L141.4 375.5 L147.6 379.5Z"/>
<path class="h" d="M150.2 367.7 L141.4 375.5 L147.6 379.5" style="stroke-width:1.6"/>
<path class="l" d="M147.6 379.5 L156.8 371.2"/>
<path class="t" d="M144.0 374.9 L148.2 376.5 L155.2 372.4"/>
<path class="w" d="M211.3 402.6 L204.7 399.1 L195.9 406.9 L202.1 410.9Z"/>
<path class="h" d="M204.7 399.1 L195.9 406.9 L202.1 410.9" style="stroke-width:1.6"/>
<path class="l" d="M202.1 410.9 L211.3 402.6"/>
<path class="t" d="M198.5 406.3 L202.7 407.9 L209.7 403.8"/>
<path class="w" d="M239.5 418.7 L232.9 415.2 L224.1 423.0 L230.3 427.0Z"/>
<path class="h" d="M232.9 415.2 L224.1 423.0 L230.3 427.0" style="stroke-width:1.6"/>
<path class="l" d="M230.3 427.0 L239.5 418.7"/>
<path class="t" d="M226.7 422.4 L230.9 424.0 L237.9 419.9"/>
<path class="w" d="M268.5 434.4 L261.9 430.9 L253.1 438.7 L259.3 442.7Z"/>
<path class="h" d="M261.9 430.9 L253.1 438.7 L259.3 442.7" style="stroke-width:1.6"/>
<path class="l" d="M259.3 442.7 L268.5 434.4"/>
<path class="t" d="M255.7 438.1 L259.9 439.7 L266.9 435.6"/>
<path class="w" d="M298.6 450.2 L292.0 446.7 L283.2 454.5 L289.4 458.5Z"/>
<path class="h" d="M292.0 446.7 L283.2 454.5 L289.4 458.5" style="stroke-width:1.6"/>
<path class="l" d="M289.4 458.5 L298.6 450.2"/>
<path class="t" d="M285.8 453.9 L290.0 455.5 L297.0 451.4"/>
<path class="w" d="M150.1 357.0 L307.2 445.8 L303.2 454.4 L146.1 365.6Z"/>
<path class="h" d="M150.1 357.5 L307.2 446.3" style="stroke-width:2.5"/>
<path class="t" d="M149.3 360.2 L306.0 449.2"/>
</g>
<g id="rail-39">
<path class="w" d="M348.7 478.9 L342.1 475.4 L333.3 483.2 L339.5 487.2Z"/>
<path class="h" d="M342.1 475.4 L333.3 483.2 L339.5 487.2" style="stroke-width:1.6"/>
<path class="l" d="M339.5 487.2 L348.7 478.9"/>
<path class="t" d="M335.9 482.6 L340.1 484.2 L347.1 480.1"/>
<path class="w" d="M378.4 494.8 L371.8 491.3 L363.0 499.1 L369.2 503.1Z"/>
<path class="h" d="M371.8 491.3 L363.0 499.1 L369.2 503.1" style="stroke-width:1.6"/>
<path class="l" d="M369.2 503.1 L378.4 494.8"/>
<path class="t" d="M365.6 498.5 L369.8 500.1 L376.8 496.0"/>
<path class="w" d="M407.4 511.0 L400.8 507.5 L392.0 515.3 L398.2 519.3Z"/>
<path class="h" d="M400.8 507.5 L392.0 515.3 L398.2 519.3" style="stroke-width:1.6"/>
<path class="l" d="M398.2 519.3 L407.4 511.0"/>
<path class="t" d="M394.6 514.7 L398.8 516.3 L405.8 512.2"/>
<path class="w" d="M435.4 526.6 L428.8 523.1 L420.0 530.9 L426.2 534.9Z"/>
<path class="h" d="M428.8 523.1 L420.0 530.9 L426.2 534.9" style="stroke-width:1.6"/>
<path class="l" d="M426.2 534.9 L435.4 526.6"/>
<path class="t" d="M422.6 530.3 L426.8 531.9 L433.8 527.8"/>
<path class="w" d="M465.2 542.8 L458.6 539.3 L449.8 547.1 L456.0 551.1Z"/>
<path class="h" d="M458.6 539.3 L449.8 547.1 L456.0 551.1" style="stroke-width:1.6"/>
<path class="l" d="M456.0 551.1 L465.2 542.8"/>
<path class="t" d="M452.4 546.5 L456.6 548.1 L463.6 544.0"/>
<path class="w" d="M316.9 448.6 L478.7 540.4 L482.1 542.8 L472.5 546.9 L312.9 458.4Z"/>
<path class="l" d="M473.7 537.8 L482.1 542.8"/>
<path class="h" d="M316.9 449.1 L478.7 540.9" style="stroke-width:2.5"/>
<path class="t" d="M316.1 451.8 L477.5 543.8"/>
</g>
<g id="cover-13">
<path class="w" d="M180.7 349.8 L191.2 342.9 L343.4 424.1 L329.5 431.3Z"/>
<path class="h" d="M180.7 349.8 L329.5 431.3" style="stroke-width:1.7"/>
<path class="t" d="M182.9 348.5 L331.9 429.8"/>
<path class="l" d="M329.5 431.3 L341.1 433.7 L337.5 427.9"/>
<path class="h" d="M330.5 431.7 L341.1 433.7"/>
</g>
<g id="clips-13">
<g transform="translate(226.4 343.6) scale(1.1)">
<path class="w" d="M0 0 l0 5.6 l2.2 0.7 l0 -5.6 z"/>
<path class="w" d="M-3.4 5.2 l3.4 -1.4 l13.4 4.2 l-2.6 2.4 Z" style="stroke-width:1"/>
<path class="l" d="M-3.4 5.2 l0 1.5 l14.2 5.2 l0 -1.5"/>
<path class="t" d="M10.8 11.9 l3.6 -2.2"/>
<ellipse class="l" cx="14.4" cy="7.4" rx="1.3" ry="2.5" transform="rotate(12 14.4 7.4)"/>
<path class="h" d="M-1.2 8.2 l-6.6 4.8" style="stroke-width:1.7;stroke-dasharray:0.9 0.6;stroke-linecap:butt"/>
</g>
<g transform="translate(316.4 391.0) scale(1.1)">
<path class="w" d="M0 0 l0 5.6 l2.2 0.7 l0 -5.6 z"/>
<path class="w" d="M-3.4 5.2 l3.4 -1.4 l13.4 4.2 l-2.6 2.4 Z" style="stroke-width:1"/>
<path class="l" d="M-3.4 5.2 l0 1.5 l14.2 5.2 l0 -1.5"/>
<path class="t" d="M10.8 11.9 l3.6 -2.2"/>
<ellipse class="l" cx="14.4" cy="7.4" rx="1.3" ry="2.5" transform="rotate(12 14.4 7.4)"/>
<path class="h" d="M-1.2 8.2 l-6.6 4.8" style="stroke-width:1.7;stroke-dasharray:0.9 0.6;stroke-linecap:butt"/>
</g>
</g>
<g id="cover-8">
<path class="w" d="M345.8 442.8 L360.2 434.0 L491.9 503.0 L475.0 512.6Z"/>
<path class="h" d="M345.8 442.8 L475.0 512.6" style="stroke-width:1.7"/>
<path class="t" d="M348.0 441.5 L477.4 511.1"/>
<path class="l" d="M475.0 512.6 L486.6 515.0 L483.0 509.2"/>
<path class="h" d="M476.0 513.0 L486.6 515.0"/>
<circle cx="383.4" cy="474" r="0.8" class="f"/>
</g>
<g id="clip-8">
<g transform="translate(387.4 426.0) scale(1.1)">
<path class="w" d="M0 0 l0 5.6 l2.2 0.7 l0 -5.6 z"/>
<path class="w" d="M-3.4 5.2 l3.4 -1.4 l13.4 4.2 l-2.6 2.4 Z" style="stroke-width:1"/>
<path class="l" d="M-3.4 5.2 l0 1.5 l14.2 5.2 l0 -1.5"/>
<path class="t" d="M10.8 11.9 l3.6 -2.2"/>
<ellipse class="l" cx="14.4" cy="7.4" rx="1.3" ry="2.5" transform="rotate(12 14.4 7.4)"/>
<path class="h" d="M-1.2 8.2 l-6.6 4.8" style="stroke-width:1.7;stroke-dasharray:0.9 0.6;stroke-linecap:butt"/>
</g>
</g>
<g id="nut-37-left">
<path class="w" d="M156.2 342.6 l2.2 -3 l4.6 -0.2 l2.6 2.6 l-1.4 3.6 l-4.8 1 z"/>
<ellipse class="l" cx="161.0" cy="342.4" rx="2.2" ry="1.5"/>
<path class="t" d="M156.2 342.6 l0.2 2 l3.4 2.6 l4.6 -1 l1 -3.4"/>
<path class="t" d="M159.8 347.7 L159.8 354.1 L202.4 378.3 L203.2 394.4"/>
</g>
</g>
<g id="small-parts">
<g id="part-29"><path class="w" d="M224.4 284.9 L227.8 282.9 L234.0 285.1 Q234.4 287.7 232.0 288.7 L227.4 289.5 Q224.0 288.3 224.4 284.9Z" style="stroke-width:1.15"/>
<path class="t" d="M226.2 287.7 L232.6 286.5"/>
</g>
<g id="part-30-a"><path class="w" d="M223.8 296.2 L227.2 294.2 L233.4 296.4 Q233.8 299.0 231.4 300.0 L226.8 300.8 Q223.4 299.6 223.8 296.2Z" style="stroke-width:1.15"/>
<path class="t" d="M225.6 299.0 L232.0 297.8"/>
<path class="l" d="M224.0 296.0 q-0.2 -2.2 2.4 -2.6"/>
</g>
<g id="part-30-b"><path class="w" d="M302.4 333.0 L305.8 331.0 L312.0 333.2 Q312.4 335.8 310.0 336.8 L305.4 337.6 Q302.0 336.4 302.4 333.0Z" style="stroke-width:1.15"/>
<path class="t" d="M304.2 335.8 L310.6 334.6"/>
<path class="l" d="M302.6 332.8 q-0.2 -2.2 2.4 -2.6"/>
</g>
<g id="part-30-c"><path class="w" d="M437.0 394.5 L440.4 392.5 L446.6 394.7 Q447.0 397.3 444.6 398.3 L440.0 399.1 Q436.6 397.9 437.0 394.5Z" style="stroke-width:1.15"/>
<path class="t" d="M438.8 397.3 L445.2 396.1"/>
<path class="l" d="M437.2 394.3 q-0.2 -2.2 2.4 -2.6"/>
</g>
<g id="rivets-28-27"><path class="l" d="M227.4 321.8 L225.9 327.8 M227.4 321.8 L228.9 327.8 M226.3 326.2 L228.5 326.2" style="stroke-width:1.05"/>
<path class="l" d="M307.6 360.6 L306.1 366.6 M307.6 360.6 L309.1 366.6 M306.5 365.0 L308.7 365.0" style="stroke-width:1.05"/>
<path class="l" d="M442.3 423.6 L440.8 429.0 M442.3 423.6 L443.8 429.0 M441.2 427.4 L443.4 427.4" style="stroke-width:1.05"/>
</g>
<line class="t" x1="228.4" y1="302.0" x2="228.4" y2="305.2"/>
<line class="t" x1="228.4" y1="315.6" x2="228.4" y2="320.0" stroke-dasharray="2.4 1.4"/>
<line class="t" x1="308.7" y1="339.2" x2="308.7" y2="343.0"/>
<line class="t" x1="308.2" y1="353.4" x2="308.2" y2="359.6" stroke-dasharray="2.6 1.4"/>
<line class="t" x1="442.8" y1="391.2" x2="442.8" y2="392.6"/>
<g id="part-25">
<ellipse class="l" cx="589.4" cy="491.8" rx="1.2" ry="1.5" style="stroke-width:1.2"/>
<ellipse class="l" cx="589.4" cy="495.4" rx="1.4" ry="1.8" style="stroke-width:1.2"/>
<line class="t" x1="589.7" y1="433.9" x2="589.7" y2="470.1" opacity="0.75"/>
</g>
<g id="part-26">
<path class="w" d="M477.6 453.6 L477.6 461.4 L480 462.2 L480 454.2 Z"/>
<path class="w" d="M480 459.2 L493 463.2 L493 465.6 L489.6 467 L477.6 463 L477.6 461.4"/>
<path class="t" d="M480 462.2 L489.6 465.2 L493 463.2 M489.6 465.2 L489.6 467"/>
<path class="l" d="M493.4 460 L493.4 467.8 M495 460.4 L495 467.4"/>
</g>
<g id="part-35">
<path class="t" d="M455.4 481.0 L462.6 476.5"/>
<path class="t" d="M462.0 475.5 L463.9 477.1 L463.3 474.7 L465.2 476.2 L464.7 473.9 L466.6 475.4 L466.0 473.0 L467.9 474.6 L467.4 472.2 L469.3 473.8 L468.7 471.4 L470.6 472.9 L470.1 470.6 L471.9 472.1 L471.4 469.7 L473.3 471.3 L472.8 468.9 L474.6 470.4 L474.1 468.1 L476.0 469.6 L475.5 467.2 L477.3 468.8 L476.8 466.4Z"/>
</g>
<g id="part-18">
<path class="w" d="M589.5 425.8 L655.6 446.4 L646.2 454.0 L585.9 430.0Z"/>
<path class="l" d="M588.0 427.6 L651.7 449.6"/>
<path class="t" d="M587.0 428.7 L649.0 451.7Z"/>
<path class="h" d="M585.9 430.0 L646.2 454.0Z"/>
<path class="h" d="M589.5 425.8 L655.6 446.4Z"/>
<path class="w" d="M651.9 458.9 L663.1 450.3 A4.4 4.4 0 0 0 657.7 443.3 L646.5 451.9"/>
<path class="h" d="M657.7 443.3 L646.5 451.9"/>
<circle cx="649.2" cy="455.4" r="4.4" class="w" style="stroke-width:1.2"/>
<circle cx="649.2" cy="455.4" r="2.1" class="l" style="stroke-width:1.7"/>
</g>
<path class="l" d="M589.5 425.8 L585.9 430"/>
<g id="part-19">
<path class="w" d="M743.4 449.7 L753.8 441.2 A4.9 4.9 0 0 0 747.6 433.6 L737.2 442.1 Z" style="fill:#a5a5a5;stroke-width:1.2"/>
<path class="t" d="M740.7 443.5 L750.1 435.6" style="stroke:#eee;stroke-width:1.6"/>
<path class="h" d="M743.1 449.3 L753.5 440.8" style="stroke-width:2"/>
<circle cx="740.3" cy="445.9" r="4.9" class="w" style="fill:#555;stroke-width:1.3"/>
<circle cx="740.3" cy="445.9" r="2.2" class="w" style="fill:#ddd;stroke-width:1.1"/>
</g>
<path class="cd" d="M665.2 442.3 L721.5 462.8 L734.4 452.0"/>
</g>
</g>
<g id="leaders" stroke="#2e2e2e" stroke-width="0.75" fill="none">
<line x1="495.8" y1="59.7" x2="475.7" y2="80.3"/>
<line x1="679.3" y1="66.2" x2="665.2" y2="88.8"/>
<line x1="607.5" y1="48.3" x2="626.6" y2="52.1" stroke-dasharray="1.2 1.3"/>
<line x1="606.5" y1="62.8" x2="627" y2="66.8" stroke-dasharray="4.5 1.6 1 1.6"/>
<line x1="609.5" y1="76.9" x2="624.6" y2="79.7"/>
<line x1="606" y1="105" x2="624.6" y2="106"/>
<line x1="429.4" y1="220.1" x2="398.8" y2="241.2"/>
<line x1="525.9" y1="235.7" x2="541.1" y2="279.2"/>
<line x1="576.6" y1="249" x2="561.6" y2="261.5"/>
<line x1="682.8" y1="229.2" x2="653.4" y2="231.6"/>
<line x1="680.5" y1="238.7" x2="654.8" y2="245.3" stroke-dasharray="4.5 1.6 1 1.6"/>
<line x1="684.7" y1="250.2" x2="655" y2="255"/>
<line x1="682.8" y1="264.2" x2="654.3" y2="265.4"/>
<line x1="684.7" y1="277.2" x2="653.4" y2="279.2"/>
<line x1="684.7" y1="291.2" x2="654.3" y2="296.8"/>
<line x1="615.9" y1="278.7" x2="636.9" y2="284" stroke-dasharray="1.2 1.3"/>
<line x1="740.5" y1="294.3" x2="777.1" y2="302.8"/>
<line x1="727.3" y1="308.1" x2="768.2" y2="317.6"/>
<line x1="643.6" y1="361.2" x2="656.4" y2="384"/>
<line x1="695.2" y1="368.9" x2="720.6" y2="385.1"/>
<line x1="427.3" y1="271.4" x2="445.3" y2="282.4"/>
<line x1="416.3" y1="283.5" x2="433.7" y2="296.1"/>
<line x1="235" y1="288.6" x2="255.4" y2="292.4" stroke-dasharray="4.5 1.6 1 1.6"/>
<line x1="234.5" y1="299.1" x2="255.4" y2="305.9" stroke-dasharray="4.5 1.6 1 1.6"/>
<line x1="212.4" y1="320" x2="223.7" y2="323.3"/>
<line x1="175.6" y1="322.1" x2="164" y2="338.4"/>
<line x1="311.2" y1="331.6" x2="323.3" y2="327.1" stroke-dasharray="4.5 1.6 1 1.6"/>
<line x1="351.4" y1="340.3" x2="339.2" y2="353"/>
<line x1="287.8" y1="361.8" x2="302.9" y2="362.2" stroke-dasharray="4.5 1.6 1 1.6"/>
<line x1="343.3" y1="405.5" x2="320.2" y2="409.5" stroke-dasharray="1.2 1.3"/>
<line x1="157.2" y1="425.8" x2="181.6" y2="389.2"/>
<line x1="248.6" y1="498.6" x2="264.7" y2="482.5"/>
<line x1="447.2" y1="399.5" x2="459" y2="403.1" stroke-dasharray="4.5 1.6 1 1.6"/>
<line x1="529.2" y1="403.1" x2="516.9" y2="410.4"/>
<line x1="444.5" y1="431.2" x2="451.4" y2="438.4"/>
<line x1="491.6" y1="467.4" x2="500.6" y2="475.5"/>
<line x1="472.6" y1="474.6" x2="485.2" y2="484.2" stroke-dasharray="1.2 1.3"/>
<line x1="526" y1="454.7" x2="530" y2="478.3" stroke-dasharray="4.5 1.6 1 1.6"/>
<line x1="570.3" y1="494.6" x2="583.9" y2="493.3" stroke-dasharray="3.4 1.8"/>
<line x1="487.1" y1="509" x2="510" y2="517.4" stroke-dasharray="4.5 1.6 1 1.6"/>
<line x1="469" y1="530.7" x2="505.2" y2="533.6" stroke-dasharray="4.5 1.6 1 1.6"/>
<line x1="659.2" y1="459.4" x2="693.4" y2="494.6"/>
<line x1="753.7" y1="447.3" x2="802" y2="474.4"/>
</g>
<g id="callout-numbers" font-size="11" text-anchor="middle" stroke="#1a1a1a" stroke-width="0.5" opacity="0.99">
<text transform="translate(499.1 58.5) scale(0.86 1)">4</text>
<text transform="translate(599.4 51.0) scale(0.86 1)">34</text>
<text transform="translate(599.4 65.5) scale(0.86 1)">32</text>
<text transform="translate(600.2 79.2) scale(0.86 1)">33</text>
<text transform="translate(599.4 109.4) scale(0.86 1)">31</text>
<text transform="translate(681.9 64.10000000000001) scale(0.86 1)">3</text>
<text transform="translate(434.7 219.70000000000002) scale(0.86 1)">2</text>
<text transform="translate(524.2 234.8) scale(0.86 1)">1</text>
<text transform="translate(581.4 246.1) scale(0.86 1)">24</text>
<text transform="translate(688.9 231.1) scale(0.86 1)">20</text>
<text transform="translate(688.9 242.0) scale(0.86 1)">21</text>
<text transform="translate(689.6 252.9) scale(0.86 1)">6</text>
<text transform="translate(697.3 266.2) scale(0.86 1)">17, 38</text>
<text transform="translate(690 279.9) scale(0.86 1)">15</text>
<text transform="translate(690.5 293.9) scale(0.86 1)">16</text>
<text transform="translate(610.4 281.79999999999995) scale(0.86 1)">14</text>
<text transform="translate(785.5 308.9) scale(0.86 1)">23</text>
<text transform="translate(776.4 323.7) scale(0.86 1)">5</text>
<text transform="translate(660.9 393.4) scale(0.86 1)">36</text>
<text transform="translate(726.4 393.9) scale(0.86 1)">12</text>
<text transform="translate(450.6 291.59999999999997) scale(0.86 1)">37</text>
<text transform="translate(441.7 304.9) scale(0.86 1)">22</text>
<text transform="translate(262.4 297.09999999999997) scale(0.86 1)">29</text>
<text transform="translate(262.8 310.7) scale(0.86 1)">30</text>
<text transform="translate(204.2 322.29999999999995) scale(0.86 1)">28</text>
<text transform="translate(178.9 321.09999999999997) scale(0.86 1)">37</text>
<text transform="translate(329.5 329.09999999999997) scale(0.86 1)">30</text>
<text transform="translate(354.7 338.59999999999997) scale(0.86 1)">10</text>
<text transform="translate(461.5 318.4) scale(0.86 1)">7</text>
<text transform="translate(280.3 365.2) scale(0.86 1)">28</text>
<text transform="translate(350 407.5) scale(0.86 1)">13</text>
<text transform="translate(152.5 436.59999999999997) scale(0.86 1)">40</text>
<text transform="translate(245 511.5) scale(0.86 1)">41</text>
<text transform="translate(466.2 407.9) scale(0.86 1)">30</text>
<text transform="translate(532.6 404.5) scale(0.86 1)">11</text>
<text transform="translate(457 448.0) scale(0.86 1)">27</text>
<text transform="translate(506.2 481.4) scale(0.86 1)">26</text>
<text transform="translate(492.1 491.09999999999997) scale(0.86 1)">35</text>
<text transform="translate(531.2 488.9) scale(0.86 1)">9</text>
<text transform="translate(562.3 499.9) scale(0.86 1)">25</text>
<text transform="translate(516.1 524.5) scale(0.86 1)">8</text>
<text transform="translate(512.5 539.0) scale(0.86 1)">39</text>
<text transform="translate(698.4 503.5) scale(0.86 1)">18</text>
<text transform="translate(812.1 485.4) scale(0.86 1)">19</text>
</g>
<g id="footer-rules">
<line x1="33" y1="570.8" x2="926" y2="570.8" stroke="#1a1a1a" stroke-width="1.3"/>
<line x1="33" y1="647.2" x2="926" y2="647.2" stroke="#1a1a1a" stroke-width="1.3"/>
</g>
<g id="footer-text" stroke="#111" stroke-width="0.2" opacity="0.99">
<text transform="translate(35.6 583.2) scale(1.0907 1)" font-size="10">Tafel · Таблица</text>
<text transform="translate(35.6 595.3) scale(1.0879 1)" font-size="10">Table · Planche</text>
<text transform="translate(35.6 623.3) scale(0.9718 1)" font-size="18" font-weight="bold">001</text>
<text transform="translate(138.2 606.8) scale(1.0672 1)" font-size="14" font-weight="bold">Fingerbalken</text>
<text transform="translate(240 606.8) scale(1.2056 1)" font-size="14" font-weight="bold">–</text>
<text transform="translate(138.2 623.4) scale(1.0276 1)" font-size="14" font-weight="bold">Messer</text>
<text transform="translate(280 606.8) scale(1.0645 1)" font-size="14" font-weight="bold">Пальцевый брус</text>
<text transform="translate(413.9 606.8) scale(1.2056 1)" font-size="14" font-weight="bold">–</text>
<text transform="translate(280 623.4) scale(1.1215 1)" font-size="14" font-weight="bold">нож</text>
<text transform="translate(515.1 606.8) scale(1.0472 1)" font-size="14" font-weight="bold">Finger bar</text>
<text transform="translate(595.6 606.8) scale(1.1543 1)" font-size="14" font-weight="bold">–</text>
<text transform="translate(515.1 623.4) scale(1.0629 1)" font-size="14" font-weight="bold">Knife</text>
<text transform="translate(669 606.8) scale(1.0614 1)" font-size="14" font-weight="bold">Barre de coupe</text>
<text transform="translate(785.3 606.8) scale(1.1928 1)" font-size="14" font-weight="bold">–</text>
<text transform="translate(669 623.4) scale(1.0662 1)" font-size="14" font-weight="bold">Lame</text>
<text transform="translate(875.8 624.2) scale(0.9394 1)" font-size="20" font-weight="bold">E 517</text>
<text transform="translate(35.6 672.5) scale(0.8809 1)" font-size="10">50</text>
</g>
</svg>
</body></html>
